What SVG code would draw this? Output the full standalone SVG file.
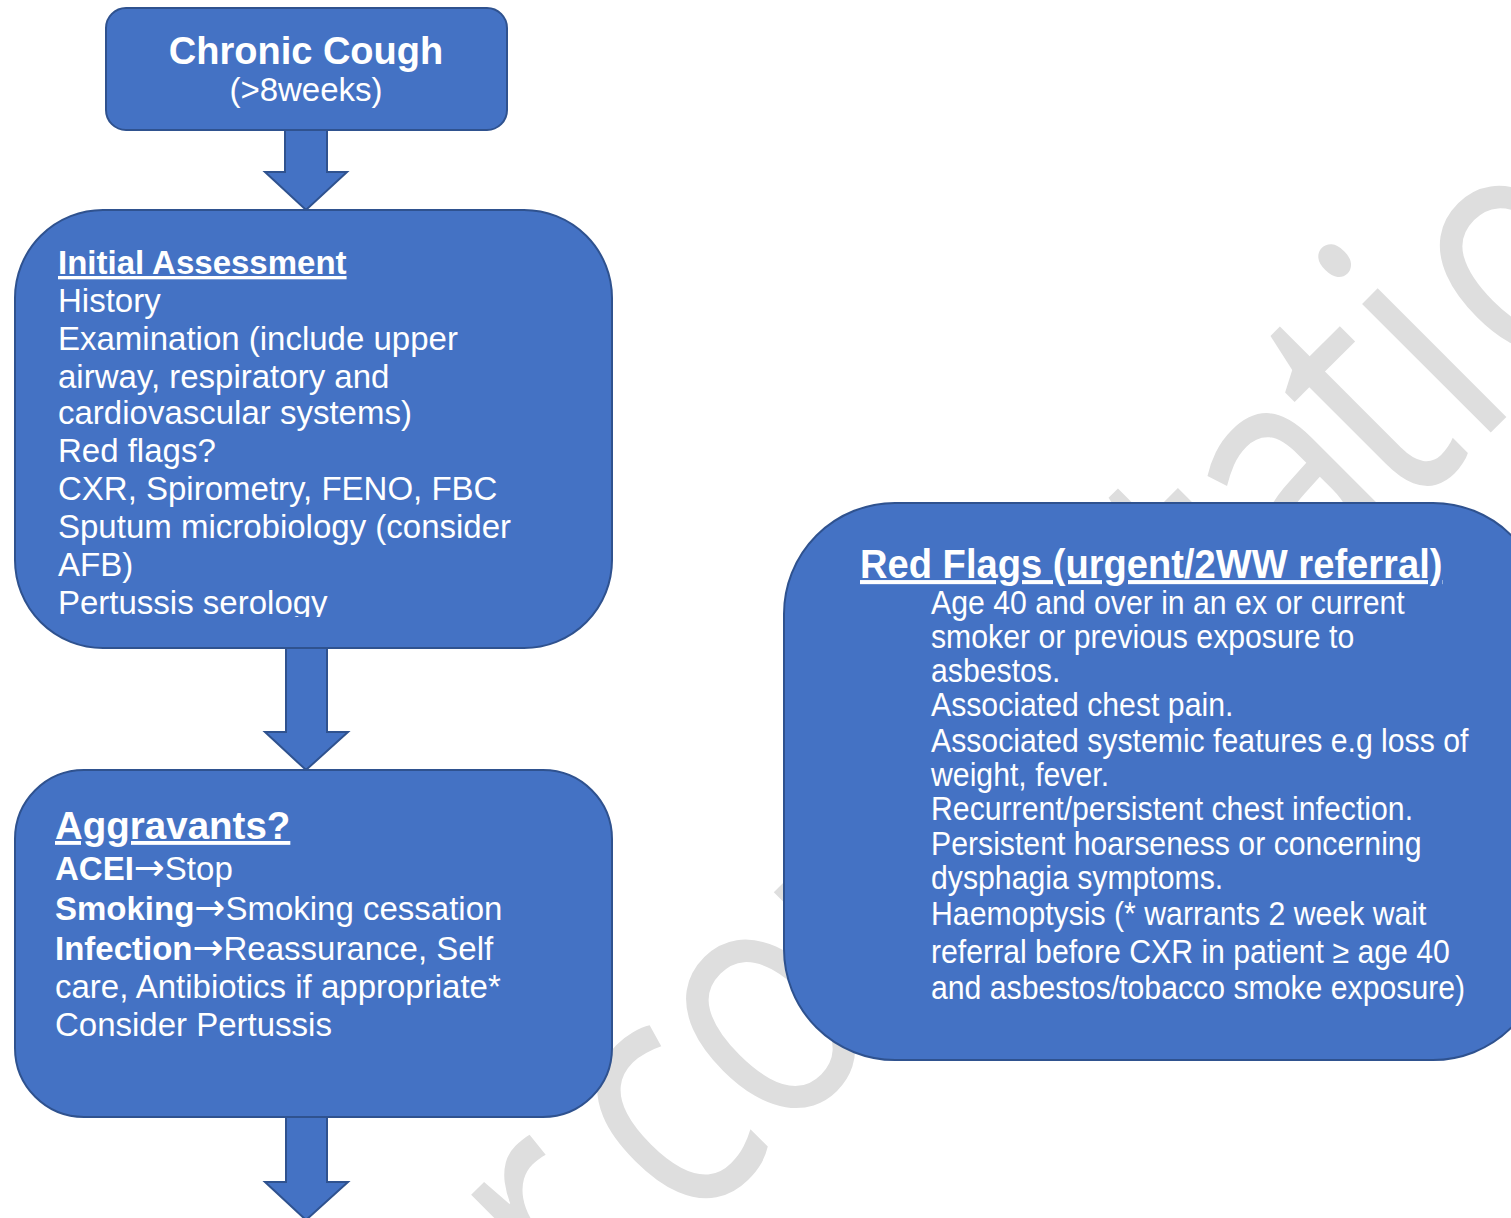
<svg xmlns="http://www.w3.org/2000/svg" width="1511" height="1218" viewBox="0 0 1511 1218">
  <style>
    .box { fill: #4472C4; stroke: #2F528F; stroke-width: 2; }
    .arrow { fill: #4472C4; stroke: #2F528F; stroke-width: 2; stroke-linejoin: miter; }
    .t { font-family: "Liberation Sans", Arial, sans-serif; fill: #ffffff; }
    .b { font-weight: bold; }
    .u { text-decoration: underline; }
    .ar { font-family: "DejaVu Sans", sans-serif; font-size: 37px; font-weight: normal; }
    .wm { font-family: "Open Sans", "Noto Sans", sans-serif; fill: #dedede; }
  </style>
  <defs>
    <clipPath id="clipInitial">
      <rect x="15" y="215" width="597" height="402"/>
    </clipPath>
  </defs>

  <rect x="0" y="0" width="1511" height="1218" fill="#ffffff"/>

  <!-- background watermark -->
  <g id="watermark" transform="rotate(-45)">
    <text class="wm" font-size="340" transform="scale(0.8,1)" y="1360"
      x="-990 -872.5 -668.75 -531 -483.75 -326.25 -133.75 62.5 216.25 412.5 497.5 611.25 783.75 906.25 1006.25 1210">for consultation</text>
  </g>

  <!-- block arrows between steps -->
  <g id="connectors">
    <path class="arrow" d="M285,130 H327 V172 H347 L306,210 L265,172 H285 Z"/>
    <path class="arrow" d="M286,648 H327 V732 H348 L306,770 L265,732 H286 Z"/>
    <path class="arrow" d="M286,1117 H327 V1182 H348 L306,1220 L265,1182 H286 Z"/>
  </g>

  <g id="chronic-cough">
    <rect class="box" x="106" y="8" width="401" height="122" rx="20"/>
    <text class="t b" x="306" y="64" font-size="38" text-anchor="middle">Chronic Cough</text>
    <text class="t" x="306" y="101" font-size="33" text-anchor="middle">(&gt;8weeks)</text>
  </g>

  <g id="initial-assessment">
    <rect class="box" x="15" y="210" width="597" height="438" rx="88"/>
    <g clip-path="url(#clipInitial)" font-size="33">
      <text class="t b u" x="58" y="274">Initial Assessment</text>
      <text class="t" x="58" y="312">History</text>
      <text class="t" x="58" y="350">Examination (include upper</text>
      <text class="t" x="58" y="388">airway, respiratory and</text>
      <text class="t" x="58" y="424">cardiovascular systems)</text>
      <text class="t" x="58" y="462">Red flags?</text>
      <text class="t" x="58" y="500">CXR, Spirometry, FENO, FBC</text>
      <text class="t" x="58" y="538">Sputum microbiology (consider</text>
      <text class="t" x="58" y="576">AFB)</text>
      <text class="t" x="58" y="614">Pertussis serology</text>
    </g>
  </g>

  <g id="aggravants">
    <rect class="box" x="15" y="770" width="597" height="347" rx="69"/>
    <text class="t b u" x="55" y="839" font-size="38.5">Aggravants?</text>
    <g font-size="33">
      <text class="t" x="55" y="880"><tspan class="b">ACEI</tspan><tspan class="ar">→</tspan>Stop</text>
      <text class="t" x="55" y="920"><tspan class="b">Smoking</tspan><tspan class="ar">→</tspan>Smoking cessation</text>
      <text class="t" x="55" y="960"><tspan class="b">Infection</tspan><tspan class="ar">→</tspan>Reassurance, Self</text>
      <text class="t" x="55" y="998">care, Antibiotics if appropriate*</text>
      <text class="t" x="55" y="1036">Consider Pertussis</text>
    </g>
  </g>

  <g id="red-flags">
    <rect class="box" x="784" y="503" width="760" height="557" rx="111"/>
    <g transform="translate(860,0) scale(0.93,1)">
      <text class="t b u" x="0" y="578" font-size="41">Red Flags (urgent/2WW referral)</text>
    </g>
    <g transform="translate(931,0) scale(0.93,1)" font-size="32.5">
      <text class="t" x="0" y="614">Age 40 and over in an ex or current</text>
      <text class="t" x="0" y="648">smoker or previous exposure to</text>
      <text class="t" x="0" y="682">asbestos.</text>
      <text class="t" x="0" y="716">Associated chest pain.</text>
      <text class="t" x="0" y="752">Associated systemic features e.g loss of</text>
      <text class="t" x="0" y="786">weight, fever.</text>
      <text class="t" x="0" y="820">Recurrent/persistent chest infection.</text>
      <text class="t" x="0" y="855">Persistent hoarseness or concerning</text>
      <text class="t" x="0" y="889">dysphagia symptoms.</text>
      <text class="t" x="0" y="925">Haemoptysis (* warrants 2 week wait</text>
      <text class="t" x="0" y="963">referral before CXR in patient ≥ age 40</text>
      <text class="t" x="0" y="999">and asbestos/tobacco smoke exposure)</text>
    </g>
  </g>
</svg>
